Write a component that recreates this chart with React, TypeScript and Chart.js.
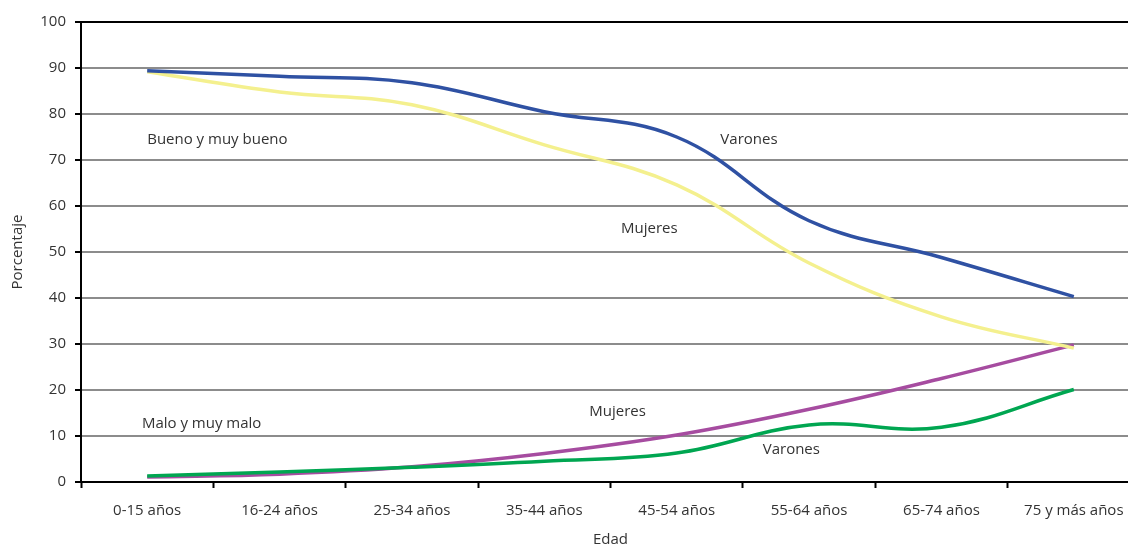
import React, { useEffect, useRef } from "react";
import { Chart, registerables } from "chart.js";

Chart.register(...registerables);

const categories = [
  "0-15 años",
  "16-24 años",
  "25-34 años",
  "35-44 años",
  "45-54 años",
  "55-64 años",
  "65-74 años",
  "75 y más años",
];

const buenoVarones = [89.4, 88.2, 86.8, 80.5, 75.0, 56.8, 48.8, 40.3];
const buenoMujeres = [89.2, 84.8, 82.0, 73.3, 64.6, 47.6, 35.9, 29.1];
const maloMujeres = [1.1, 1.7, 3.3, 6.2, 10.2, 15.8, 22.5, 29.8];
const maloVarones = [1.3, 2.2, 3.2, 4.5, 6.3, 12.4, 11.9, 20.1];

const yTicks = [0, 10, 20, 30, 40, 50, 60, 70, 80, 90, 100];

// text annotations: [text, category index (fractional), value]
const annotations: [string, number, number][] = [
  ["Bueno y muy bueno", 0.0, 74.4],
  ["Varones", 4.33, 74.4],
  ["Mujeres", 3.58, 55.0],
  ["Mujeres", 3.34, 15.2],
  ["Malo y muy malo", -0.04, 12.6],
  ["Varones", 4.65, 7.0],
];

const FONT = "'Open Sans', 'DejaVu Sans', sans-serif";
const TEXT_COLOR = "#333333";

export default function App() {
  const ref = useRef<HTMLCanvasElement | null>(null);

  useEffect(() => {
    if (!ref.current) return;
    const labelPlugin = {
      id: "textLabels",
      afterDatasetsDraw(chart: any) {
        const ctx = chart.ctx;
        const xs = chart.scales.x;
        const ys = chart.scales.y;
        ctx.save();
        ctx.font = `15px ${FONT}`;
        ctx.fillStyle = TEXT_COLOR;
        ctx.textAlign = "left";
        ctx.textBaseline = "middle";
        for (const [t, xi, v] of annotations) {
          ctx.fillText(t, xs.getPixelForValue(xi), ys.getPixelForValue(v));
        }
        ctx.restore();
      },
    };

    const chart = new Chart(ref.current, {
      type: "line",
      data: {
        labels: categories,
        datasets: [
          {
            label: "Bueno y muy bueno - Varones",
            data: buenoVarones,
            borderColor: "#2f51a3",
            borderWidth: 3.5,
            pointRadius: 0,
            tension: 0.4,
          },
          {
            label: "Bueno y muy bueno - Mujeres",
            data: buenoMujeres,
            borderColor: "#f4f08e",
            borderWidth: 3.5,
            pointRadius: 0,
            tension: 0.4,
          },
          {
            label: "Malo y muy malo - Varones",
            data: maloVarones,
            borderColor: "#00a651",
            borderWidth: 3.5,
            pointRadius: 0,
            tension: 0.4,
          },
          {
            label: "Malo y muy malo - Mujeres",
            data: maloMujeres,
            borderColor: "#a64ca0",
            borderWidth: 3.5,
            pointRadius: 0,
            tension: 0.4,
          },
        ],
      },
      options: {
        responsive: false,
        animation: false,
        layout: { padding: { top: 22, right: 0, left: 0, bottom: 0 } },
        plugins: {
          legend: { display: false },
          tooltip: { enabled: false },
        },
        scales: {
          x: {
            type: "category",
            offset: true,
            grid: {
              offset: true,
              drawOnChartArea: false,
              drawTicks: true,
              tickLength: 6,
              tickColor: "#000",
              tickWidth: 2,
            },
            border: { color: "#000", width: 2 },
            ticks: {
              color: TEXT_COLOR,
              font: { family: FONT, size: 15 },
              padding: 14,
              maxRotation: 0,
              autoSkip: false,
            },
            title: {
              display: true,
              text: "Edad",
              color: TEXT_COLOR,
              font: { family: FONT, size: 15, lineHeight: 1 },
              padding: { top: 0, bottom: -2 },
            },
            afterFit: (s: any) => {
              s.height = 63;
            },
          },
          y: {
            min: 0,
            max: 100,
            afterBuildTicks: (s: any) => {
              s.ticks = yTicks.map((v) => ({ value: v }));
            },
            grid: {
              color: (c: any) =>
                c.tick && c.tick.value === 100 ? "#000" : "#8c8c8c",
              lineWidth: 2,
              drawTicks: true,
              tickLength: 6,
              tickColor: "#000",
              tickWidth: 2,
            },
            border: { color: "#000", width: 2 },
            ticks: {
              color: TEXT_COLOR,
              font: { family: FONT, size: 15 },
              padding: 9,
            },
            title: {
              display: true,
              text: "Porcentaje",
              color: TEXT_COLOR,
              font: { family: FONT, size: 15, lineHeight: 1.2 },
              padding: { top: 9, bottom: 0 },
            },
            afterFit: (s: any) => {
              s.width = 81;
            },
          },
        },
      },
      plugins: [labelPlugin],
    });
    return () => chart.destroy();
  }, []);

  return (
    <div
      style={{
        position: "fixed",
        left: 0,
        top: 0,
        width: 1128,
        height: 545,
        overflow: "hidden",
        background: "#fff",
      }}
    >
      <canvas ref={ref} width={1140} height={545} style={{ display: "block" }} />
    </div>
  );
}
